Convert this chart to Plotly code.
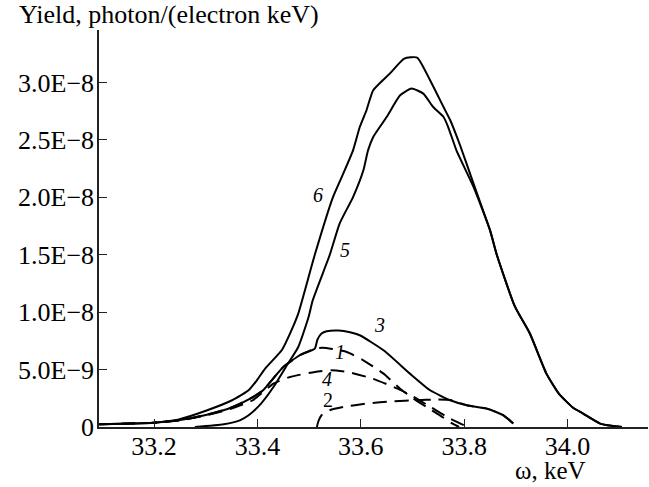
import plotly.graph_objects as go

# Yield values in units of 1E-8 photon/(electron keV); omega in keV
x1 = [33.094, 33.15, 33.2, 33.25, 33.30, 33.35, 33.386, 33.411, 33.43, 33.45, 33.482, 33.511, 33.525, 33.545, 33.573, 33.605, 33.644, 33.676, 33.702, 33.727, 33.753, 33.775, 33.790]
y1 = [0.024, 0.030, 0.038, 0.060, 0.105, 0.170, 0.247, 0.320, 0.420, 0.523, 0.625, 0.683, 0.690, 0.680, 0.653, 0.581, 0.465, 0.334, 0.247, 0.174, 0.102, 0.035, 0.0]

x2 = [33.515, 33.518, 33.524, 33.540, 33.566, 33.611, 33.663, 33.708, 33.747, 33.773, 33.805, 33.844, 33.876, 33.895]
y2 = [0.0, 0.05, 0.102, 0.146, 0.174, 0.204, 0.224, 0.233, 0.239, 0.235, 0.189, 0.160, 0.102, 0.030]

x3 = [33.094, 33.15, 33.2, 33.25, 33.30, 33.35, 33.386, 33.411, 33.43, 33.45, 33.482, 33.511, 33.516, 33.524, 33.534, 33.557, 33.579, 33.598, 33.644, 33.695, 33.734, 33.773, 33.805, 33.844, 33.876, 33.895]
y3 = [0.024, 0.030, 0.038, 0.060, 0.105, 0.170, 0.247, 0.320, 0.420, 0.523, 0.625, 0.683, 0.760, 0.814, 0.834, 0.840, 0.825, 0.799, 0.668, 0.465, 0.320, 0.233, 0.189, 0.160, 0.102, 0.030]

x4 = [33.094, 33.2, 33.25, 33.30, 33.35, 33.391, 33.431, 33.463, 33.511, 33.543, 33.575, 33.623, 33.671, 33.703, 33.735, 33.767, 33.807]
y4 = [0.024, 0.038, 0.058, 0.100, 0.160, 0.233, 0.378, 0.436, 0.479, 0.494, 0.479, 0.421, 0.334, 0.261, 0.174, 0.087, 0.0]

x5 = [33.279, 33.335, 33.366, 33.383, 33.407, 33.431, 33.455, 33.479, 33.499, 33.507, 33.54, 33.559, 33.585, 33.605, 33.614, 33.624, 33.650, 33.676, 33.698, 33.721, 33.740, 33.760, 33.769, 33.785, 33.818, 33.850, 33.863, 33.898, 33.927, 33.959, 33.983, 34.01, 34.03, 34.063, 34.085, 34.105]
y5 = [0.0, 0.024, 0.058, 0.102, 0.204, 0.348, 0.523, 0.697, 0.958, 1.104, 1.5, 1.772, 2.003, 2.236, 2.41, 2.526, 2.70, 2.889, 2.948, 2.904, 2.787, 2.700, 2.613, 2.410, 2.091, 1.713, 1.5, 1.05, 0.814, 0.465, 0.291, 0.17, 0.117, 0.030, 0.01, 0.0]

x6 = [33.094, 33.2, 33.246, 33.303, 33.351, 33.383, 33.399, 33.415, 33.447, 33.463, 33.479, 33.511, 33.546, 33.566, 33.585, 33.598, 33.611, 33.624, 33.656, 33.684, 33.709, 33.734, 33.760, 33.773, 33.792, 33.818, 33.850, 33.863, 33.898, 33.927, 33.959, 33.983, 34.01, 34.03, 34.063, 34.085, 34.105]
y6 = [0.024, 0.038, 0.064, 0.146, 0.233, 0.320, 0.407, 0.509, 0.668, 0.814, 0.988, 1.5, 2.0, 2.207, 2.410, 2.613, 2.759, 2.933, 3.078, 3.209, 3.218, 3.020, 2.787, 2.672, 2.454, 2.120, 1.713, 1.5, 1.05, 0.814, 0.465, 0.291, 0.17, 0.117, 0.030, 0.01, 0.0]

x_ticks = [33.2, 33.4, 33.6, 33.8, 34.0]
x_tick_text = ["33.2", "33.4", "33.6", "33.8", "34.0"]
y_ticks = [0, 0.5, 1.0, 1.5, 2.0, 2.5, 3.0]
y_tick_text = ["0", "5.0E\u22129", "1.0E\u22128", "1.5E\u22128", "2.0E\u22128", "2.5E\u22128", "3.0E\u22128"]

curve_labels = ["6", "5", "3", "1", "4", "2"]
label_x = [33.517, 33.569, 33.637, 33.560, 33.535, 33.537]
label_y = [2.018, 1.539, 0.886, 0.653, 0.416, 0.233]
label_italic = [True, True, True, True, True, False]

FONT = "Liberation Serif, Times New Roman, serif"
DASH = "14px,8px"

fig = go.Figure()
series = [
    (x1, y1, DASH), (x2, y2, DASH), (x4, y4, DASH),
    (x3, y3, "solid"), (x5, y5, "solid"), (x6, y6, "solid"),
]
for xs, ys, dash in series:
    fig.add_trace(go.Scatter(x=xs, y=ys, mode="lines",
                             line=dict(color="black", width=2, dash=dash, shape="spline", smoothing=0.5),
                             showlegend=False, hoverinfo="skip"))

for t, lx, ly, it in zip(curve_labels, label_x, label_y, label_italic):
    fig.add_annotation(x=lx, y=ly, xref="x", yref="y", text=f"<i>{t}</i>" if it else t,
                       showarrow=False, font=dict(family=FONT, size=20, color="black"))

# plot area spans 549 x 397 px
fig.add_annotation(x=(17 - 99) / 549, y=(427 - 14) / 397, xref="paper", yref="paper",
                   xanchor="left", yanchor="middle", showarrow=False,
                   text="Yield, photon/(electron keV)", font=dict(family=FONT, size=26, color="black"))
fig.add_annotation(x=(588 - 99) / 549, y=(427 - 471) / 397, xref="paper", yref="paper",
                   xanchor="right", yanchor="middle", showarrow=False,
                   text="\u03c9, keV", font=dict(family=FONT, size=25, color="black"))

fig.update_layout(
    width=649, height=487,
    margin=dict(l=99, r=1, t=30, b=60),
    paper_bgcolor="white", plot_bgcolor="white",
    font=dict(family=FONT, size=26, color="black"),
    xaxis=dict(range=[33.0936, 34.1555], tickvals=x_ticks, ticktext=x_tick_text,
               ticks="inside", ticklen=8, tickwidth=1, tickcolor="#222",
               showline=True, linecolor="#222", linewidth=1.5, showgrid=False, zeroline=False,
               ticklabelstandoff=-5, automargin=False),
    yaxis=dict(range=[0, 3.458], tickvals=y_ticks, ticktext=y_tick_text,
               ticks="inside", ticklen=8, tickwidth=1, tickcolor="#222",
               showline=True, linecolor="#222", linewidth=1.5, showgrid=False, zeroline=False,
               ticklabelstandoff=-2, automargin=False),
)

# remove the default 8px page margin so the figure fills the window exactly
fig.write_html("out.html", config={"displayModeBar": False},
               post_script="document.body.style.margin='0';")
